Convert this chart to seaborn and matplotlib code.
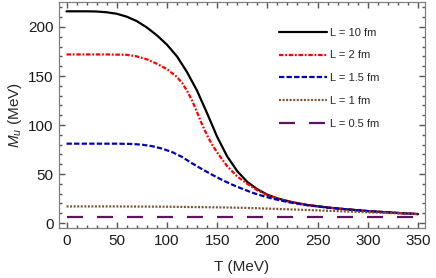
import numpy as np
import pandas as pd
import matplotlib
matplotlib.use('Agg')
import matplotlib.pyplot as plt
import seaborn as sns
from matplotlib.ticker import MultipleLocator

# values
labels = ['L = 10 fm', 'L = 2 fm', 'L = 1.5 fm', 'L = 1 fm', 'L = 0.5 fm']

T_10 = [0, 20, 30, 40, 50, 60, 70, 80, 90, 100, 110, 120, 130, 140, 150, 160, 170, 180, 190, 200, 210, 225, 240, 260, 280, 300, 325, 350]
M_10 = [216, 216, 215.8, 215, 213.5, 210.5, 206, 199.5, 191.5, 182, 170, 154, 135, 112, 88, 68, 53, 42, 34.5, 29, 25.2, 21.3, 18.5, 15.9, 14, 12.3, 10.6, 9.2]

T_2 = [0, 40, 60, 70, 80, 90, 100, 110, 115, 120, 125, 130, 135, 140, 145, 150, 160, 170, 180, 190, 200, 210, 225, 240, 260, 280, 300, 325, 350]
M_2 = [172, 172, 171.6, 170, 167, 162.5, 157, 149, 143, 135, 125, 113, 100.5, 89.5, 80, 72, 58, 47.5, 40, 33.5, 28.5, 24.8, 21, 18.3, 15.8, 13.9, 12.2, 10.6, 9.2]

T_15 = [0, 50, 65, 75, 85, 95, 105, 115, 125, 135, 145, 155, 165, 175, 185, 195, 205, 220, 240, 260, 280, 300, 325, 350]
M_15 = [81, 81, 80.7, 80, 78.5, 76, 72.5, 67.5, 61, 55, 49.3, 44, 39.2, 35, 31, 27.8, 25, 21.5, 18.2, 15.8, 13.9, 12.2, 10.6, 9.2]

T_1 = [0, 50, 100, 150, 175, 200, 250, 275, 300, 350]
M_1 = [17, 17, 16.7, 16.1, 15.6, 14.8, 13, 12, 11, 9.3]

T_05 = [0, 350]
M_05 = [6.5, 6.5]

colors = ['black', '#ff0000', '#0000b4', '#7a5430', '#5c165e']

series = [(T_10, M_10), (T_2, M_2), (T_15, M_15), (T_1, M_1), (T_05, M_05)]
df = pd.concat([pd.DataFrame({'T': t, 'M': m, 'L': lab})
                for (t, m), lab in zip(series, labels)], ignore_index=True)

sns.set_style('ticks', {'xtick.direction': 'in', 'ytick.direction': 'in'})
plt.rcParams['font.family'] = ['Liberation Sans', 'DejaVu Sans']
plt.rcParams['mathtext.fontset'] = 'custom'
plt.rcParams['mathtext.it'] = 'Liberation Sans:italic'
plt.rcParams['mathtext.rm'] = 'Liberation Sans'

fig = plt.figure(figsize=(4.36, 2.78), dpi=100)
ax = fig.add_axes([59/436, 1 - 228/278, (425-59)/436, (228-1.5)/278])

dashes = {
    'L = 10 fm': '',
    'L = 2 fm': (2.0, 0.8, 0.8, 0.8),
    'L = 1.5 fm': (2.4, 1.0),
    'L = 1 fm': (0.9, 0.7),
    'L = 0.5 fm': (7.2, 6.3),
}
sns.lineplot(data=df, x='T', y='M', hue='L', style='L', hue_order=labels,
             style_order=labels, palette=dict(zip(labels, colors)),
             dashes=dashes, linewidth=1.6, sort=True, ax=ax)

ax.set_xlim(-7.5, 357)
ax.set_ylim(-5, 226)
ax.xaxis.set_major_locator(MultipleLocator(50))
ax.xaxis.set_minor_locator(MultipleLocator(10))
ax.yaxis.set_major_locator(MultipleLocator(50))
ax.yaxis.set_minor_locator(MultipleLocator(10))
ax.tick_params(which='both', direction='in', top=True, right=True,
               bottom=True, left=True, labelsize=11, width=1.0,
               color='#555555', labelcolor='#1a1a1a')
ax.tick_params(which='major', length=4.5, pad=4)
ax.tick_params(which='minor', length=2.3)
for sp in ax.spines.values():
    sp.set_color('#808080')
    sp.set_linewidth(0.9)

ax.set_xlabel('T (MeV)', fontsize=11, labelpad=9)
ax.set_ylabel(r'$M_u$ (MeV)', fontsize=11, labelpad=3)

ax.legend(frameon=False, fontsize=8, loc='upper left',
          bbox_to_anchor=(279/436, 1 - 27.5/278), bbox_transform=fig.transFigure,
          borderpad=0, borderaxespad=0, handlelength=4.3, handletextpad=0.25,
          labelspacing=1.16)

fig.savefig('out.png', dpi=100)
